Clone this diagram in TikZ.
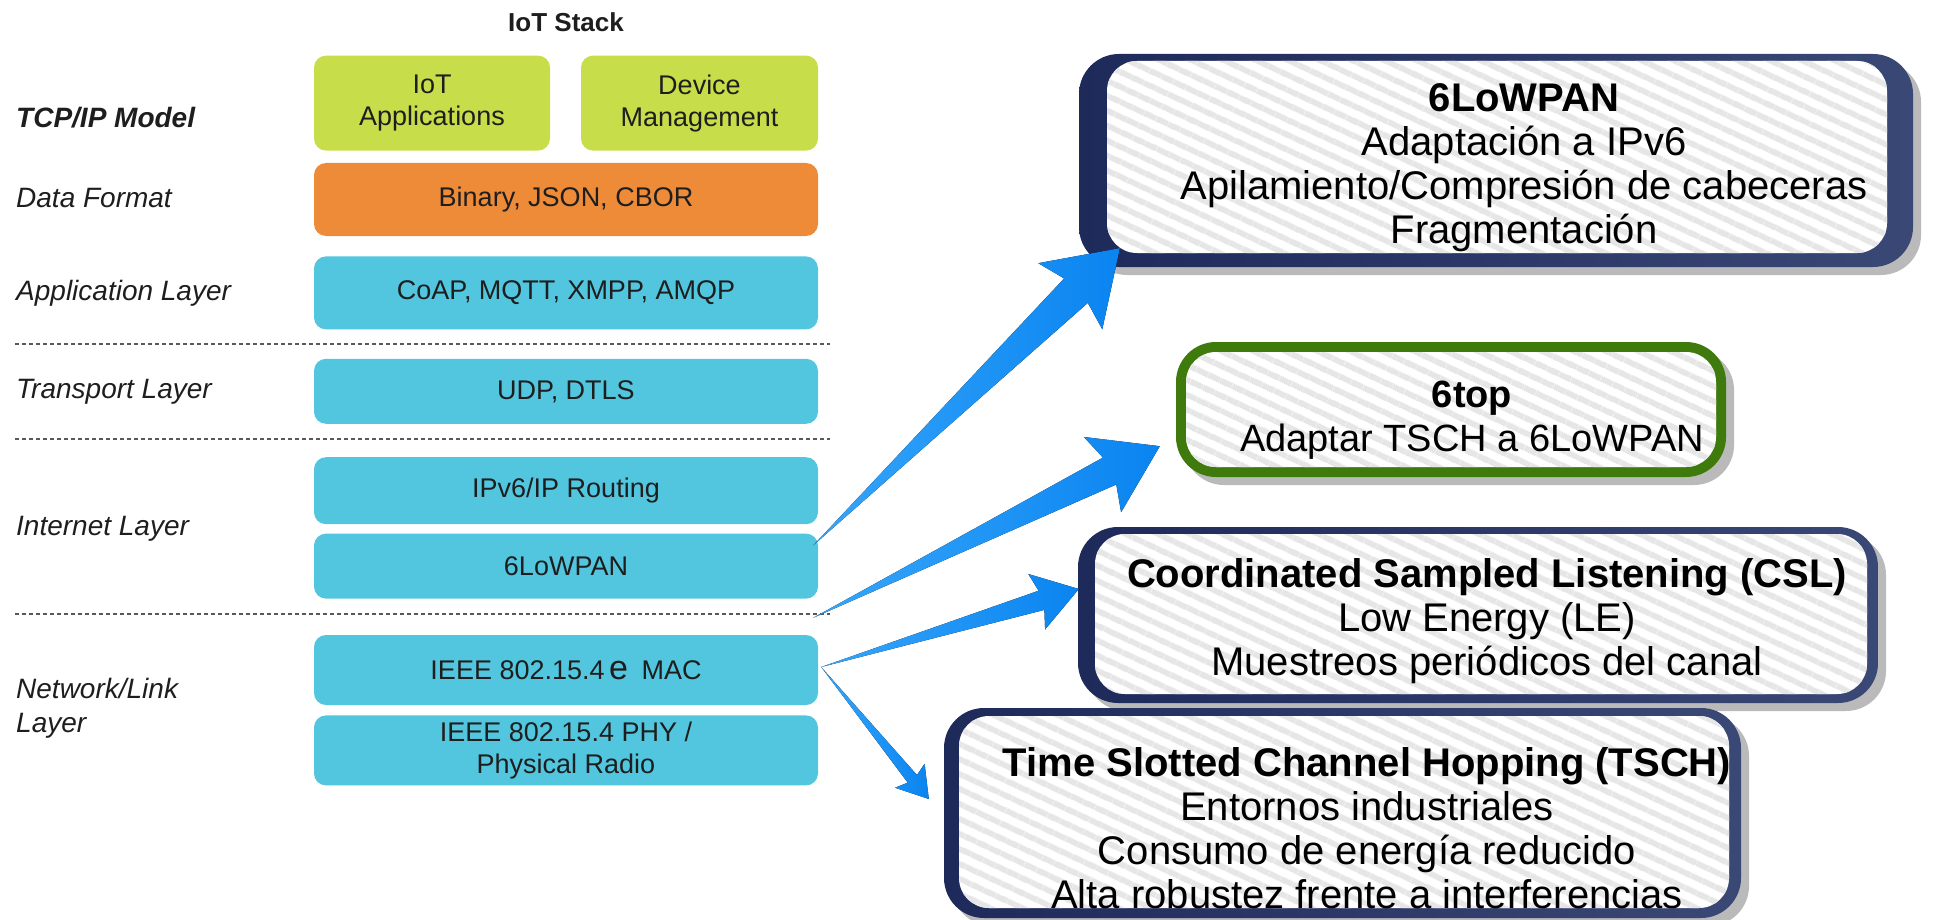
\documentclass[tikz,border=0pt]{standalone}
\usepackage{fontspec}
\setmainfont{Liberation Sans}
\usepackage{tikz}
\usetikzlibrary{positioning, calc, shadows, patterns.meta}
\definecolor{limebox}{RGB}{200,221,74}
\definecolor{orangebox}{RGB}{237,139,57}
\definecolor{cyanbox}{RGB}{82,198,223}
\definecolor{navyA}{RGB}{30,42,90}
\definecolor{navyB}{RGB}{58,72,118}
\definecolor{framegreen}{RGB}{62,122,12}
\definecolor{stripegray}{RGB}{230,230,230}
\definecolor{arrowA}{RGB}{54,166,251}
\definecolor{arrowB}{RGB}{10,132,240}
\definecolor{textdark}{RGB}{30,30,30}
\tikzset{
  stackbox/.style={rectangle, rounded corners=12pt, minimum width=504pt,
    inner sep=0pt, align=center, text=textdark, font=\fontsize{27}{32}\selectfont},
  layerlbl/.style={anchor=west, inner sep=0pt, align=left, text=textdark,
    font=\fontsize{28}{34}\selectfont\itshape},
  sepline/.style={draw=black!65, line width=2.5pt, dash pattern=on 4pt off 3pt},
  framebox/.style n args={4}{rectangle, rounded corners=40pt, inner sep=0pt,
    drop shadow={shadow xshift=8pt, shadow yshift=-8pt, fill=black!45, opacity=.6},
    path picture={
      \path[fill=white, rounded corners=30pt]
        ($(path picture bounding box.south west)+(#1,#4)$) rectangle ($(path picture bounding box.north east)+(-#2,-#3)$);
      \path[pattern={Lines[angle=-25, distance=13pt, line width=6pt]}, pattern color=stripegray, rounded corners=30pt]
        ($(path picture bounding box.south west)+(#1,#4)$) rectangle ($(path picture bounding box.north east)+(-#2,-#3)$);
    }},
  navyframe/.style={left color=navyA, right color=navyB},
  greenframe/.style={fill=framegreen},
  boxtxt/.style={align=center, text=black, font=\fontsize{40}{44}\selectfont},
  fatblue/.style={left color=arrowA, right color=arrowB}
}
\newcommand{\fatarrow}[6]{%
  \coordinate (fa-b) at ($(#2)!#3!(#1)$);
  \coordinate (fa-n) at ($(#2)!#4!(#1)$);
  \fill[fatblue] (#1) -- ($(fa-n)!#6!90:(#2)$) -- ($(fa-b)!#5!90:(#2)$) -- (#2)
    -- ($(fa-b)!#5!-90:(#2)$) -- ($(fa-n)!#6!-90:(#2)$) -- cycle;
}
\begin{document}
\begin{tikzpicture}[x=1pt, y=-1pt, node distance=12pt]
  \useasboundingbox (0,0) rectangle (1950,920);
  \node[stackbox, fill=orangebox, minimum height=73pt] (data) at (566,199.5) {Binary, JSON, CBOR};
  \node[stackbox, fill=limebox, minimum width=236pt, minimum height=95pt, anchor=south west] (apps) at ($(data.north west)+(0,-12)$) {IoT\\Applications};
  \node[stackbox, fill=limebox, minimum width=237pt, minimum height=95pt, anchor=south east] (devmgmt) at ($(data.north east)+(0,-12)$) {Device\\Management};
  \node[text=textdark, font=\fontsize{26}{30}\selectfont\bfseries] (title) at (566,22) {IoT Stack};
  \node[stackbox, fill=cyanbox, minimum height=73pt, below=20pt of data] (applyr) {CoAP, MQTT, XMPP, AMQP};
  \node[stackbox, fill=cyanbox, minimum height=65pt, below=29pt of applyr] (transp) {UDP, DTLS};
  \node[stackbox, fill=cyanbox, minimum height=67pt, below=33pt of transp] (ipv6) {IPv6/IP Routing};
  \node[stackbox, fill=cyanbox, minimum height=65pt, below=9pt of ipv6] (lowpan) {6LoWPAN};
  \node[stackbox, fill=cyanbox, minimum height=70pt, below=36pt of lowpan] (mac) {IEEE 802.15.4\,{\fontsize{34}{34}\selectfont e}\enspace MAC};
  \node[stackbox, fill=cyanbox, minimum height=70pt, below=10pt of mac] (phy) {IEEE 802.15.4 PHY /\\Physical Radio};

  \node[layerlbl, font=\fontsize{28}{34}\selectfont\bfseries\itshape] (ltcp) at (16,118) {TCP/IP Model};
  \node[layerlbl] (ldata) at (16,198) {Data Format};
  \node[layerlbl] (lapp) at (16,293) {Application Layer};
  \node[layerlbl] (ltransp) at (16,392) {Transport Layer};
  \node[layerlbl] (linet) at (16,529) {Internet Layer};
  \node[layerlbl] (llink) at (16,708) {Network/Link\\Layer};

  \draw[sepline] (15,344) -- (830,344);
  \draw[sepline] (15,439) -- (830,439);
  \draw[sepline] (15,614) -- (830,614);

  \node[framebox={28pt}{26pt}{7pt}{14pt}, navyframe, minimum width=834pt, minimum height=213pt,
    label={[boxtxt, xshift=28pt, yshift=-7pt]center:{\textbf{6LoWPAN}\\Adaptación a IPv6\\Apilamiento/Compresión de cabeceras\\Fragmentación}}] (lowpanbox) at (1496,160.5) {};
  \node[framebox={10pt}{10pt}{10pt}{10pt}, greenframe, minimum width=550pt, minimum height=135pt,
    label={[boxtxt, font=\fontsize{38}{44}\selectfont, xshift=21pt, yshift=-11pt]center:{\textbf{6top}\\Adaptar TSCH a 6LoWPAN}}] (sixtop) at (1451,409.5) {};
  \node[framebox={17pt}{11pt}{7pt}{9pt}, navyframe, minimum width=800pt, minimum height=176pt,
    label={[boxtxt, xshift=9pt, yshift=-6pt]center:{\textbf{Coordinated Sampled Listening (CSL)}\\Low Energy (LE)\\Muestreos periódicos del canal}}] (csl) at (1478,615) {};
  \node[framebox={15pt}{12pt}{8pt}{10pt}, navyframe, minimum width=797pt, minimum height=210pt,
    label={[boxtxt, xshift=24.5pt, yshift=-15pt]center:{\textbf{Time Slotted Channel Hopping (TSCH)}\\Entornos industriales\\Consumo de energía reducido\\Alta robustez frente a interferencias}}] (tsch) at (1342.5,813) {};

  \coordinate (a1) at ($(lowpan.north east)+(-5,12)$);
  \coordinate (a2) at ($(lowpan.south east)+(-5,19)$);
  \coordinate (a3) at ($(mac.east)+(3,-3)$);
  \coordinate (t1) at ($(lowpanbox.south west)+(41,-19)$);
  \coordinate (t2) at ($(sixtop.south west)+(-16,-31)$);
  \coordinate (t3) at ($(csl.west)+(1,-26)$);
  \coordinate (t4) at ($(tsch.west)+(-15,-14)$);
  \fatarrow{a1}{t1}{69pt}{61pt}{46pt}{17pt}
  \fatarrow{a2}{t2}{64pt}{56pt}{42pt}{15pt}
  \fatarrow{a3}{t3}{44pt}{39pt}{29pt}{10pt}
  \fatarrow{a3}{t4}{30pt}{26pt}{19pt}{6pt}
\end{tikzpicture}
\end{document}
